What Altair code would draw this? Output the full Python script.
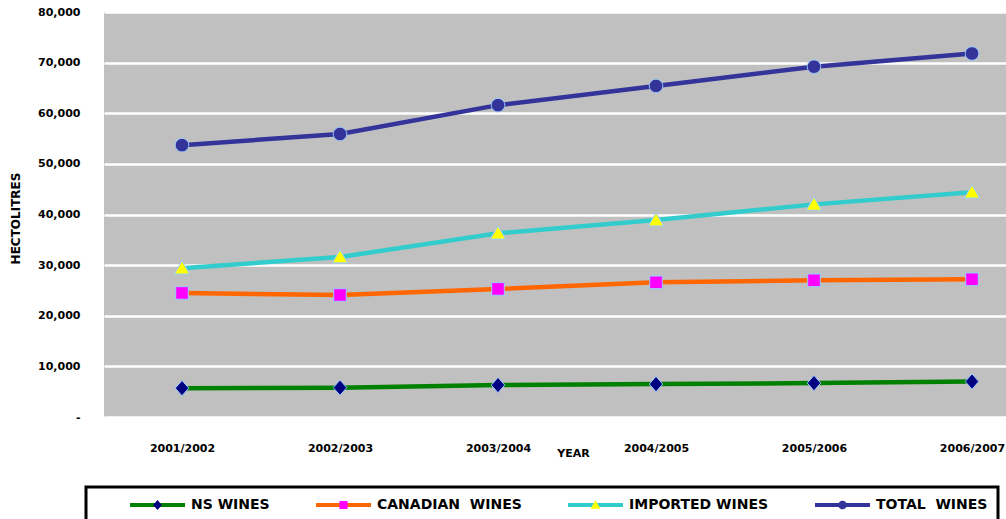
import json
import altair as alt
import pandas as pd

# ---- data ----
YEARS = ["2001/2002", "2002/2003", "2003/2004", "2004/2005", "2005/2006", "2006/2007"]
SERIES = ["NS WINES", "CANADIAN\u00a0 WINES", "IMPORTED WINES", "TOTAL\u00a0 WINES"]
NS_WINES = [5700, 5800, 6300, 6500, 6700, 7000]
CANADIAN_WINES = [24500, 24100, 25300, 26600, 27000, 27200]
IMPORTED_WINES = [29400, 31600, 36300, 38900, 42000, 44400]
TOTAL_WINES = [53700, 55900, 61600, 65400, 69200, 71800]
Y_TICKS = [0, 10000, 20000, 30000, 40000, 50000, 60000, 70000, 80000]

LINE_COLORS = ["#008000", "#FF6600", "#33CCCC", "#333399"]
MARKER_FILLS = ["#000080", "#FF00FF", "#FFFF00", "#333399"]
MARKER_SHAPES = [
    "M0,-0.17L0.15,0L0,0.17L-0.15,0Z",
    "M-0.14,-0.14H0.14V0.14H-0.14Z",
    "M0,-0.16L0.17,0.13H-0.17Z",
    "M-0.15,0A0.15,0.15,0,1,0,0.15,0A0.15,0.15,0,1,0,-0.15,0Z",
]

values_by_series = [NS_WINES, CANADIAN_WINES, IMPORTED_WINES, TOTAL_WINES]
rows = []
for name, vals in zip(SERIES, values_by_series):
    for i, v in enumerate(vals):
        rows.append({"idx": i, "year": YEARS[i], "series": name, "series_m": name, "value": v})
df = pd.DataFrame(rows)

FONT = "DejaVu Sans"

legend_common = dict(
    orient="none", legendX=-18, legendY=475, direction="horizontal", columns=4,
    title="ABC", titleOrient="left", titleFont=FONT, titleFontSize=14, titleFontWeight="bold",
    titlePadding=0, titleOpacity=0,
    labelFont=FONT, labelFontWeight="bold", labelFontSize=14, labelOffset=4, labelLimit=400,
    columnPadding=44, padding=10, clipHeight=16,
)

line_legend = alt.Legend(
    **legend_common, symbolType="stroke", symbolSize=3025, symbolStrokeWidth=4,
    labelColor="black", strokeColor="black",
)
marker_legend = alt.Legend(
    **legend_common, symbolSize=3364, symbolStrokeWidth=1, symbolStrokeColor="#99CCFF",
    symbolOpacity=1, labelOpacity=0,
)

x_label_expr = json.dumps(YEARS) + "[datum.value]"

base = alt.Chart(df).encode(
    x=alt.X(
        "idx:Q",
        scale=alt.Scale(domain=[-0.4937, 5.2152], nice=False, zero=False),
        axis=alt.Axis(
            values=list(range(len(YEARS))), labelExpr=x_label_expr, grid=False,
            domain=False, ticks=False, labelFlush=False, labelOverlap=False,
            labelPadding=25, labelFont=FONT, labelFontWeight="bold", labelFontSize=11,
            labelColor="black",
            title="YEAR", titleX=469, titleY=36, titleAlign="center", titleBaseline="middle",
            titleFont=FONT, titleFontWeight="bold", titleFontSize=11, titleColor="black",
        ),
    ),
    y=alt.Y(
        "value:Q",
        scale=alt.Scale(domain=[0, 80000], nice=False),
        axis=alt.Axis(
            values=Y_TICKS, labelExpr="datum.value == 0 ? '-' : format(datum.value, ',')",
            grid=True, gridColor="white", gridWidth=2.5, domain=False, ticks=False,
            labelPadding=24, labelFont=FONT, labelFontWeight="bold", labelFontSize=11,
            labelColor="black", labelOverlap=False,
            title="HECTOLITRES", titleX=-89, titleY=206, titleAlign="center",
            titleBaseline="middle", titleFont=FONT, titleFontWeight="bold",
            titleFontSize=12, titleColor="black",
        ),
    ),
)

lines = base.mark_line(strokeWidth=4.5).encode(
    stroke=alt.Stroke(
        "series:N",
        sort=SERIES,
        scale=alt.Scale(range=LINE_COLORS),
        legend=line_legend,
    )
)

points = base.mark_point(filled=True, size=8100, opacity=1, stroke="#99CCFF", strokeWidth=1).encode(
    color=alt.Color("series_m:N", scale=alt.Scale(domain=SERIES, range=MARKER_FILLS), legend=marker_legend),
    shape=alt.Shape("series_m:N", scale=alt.Scale(domain=SERIES, range=MARKER_SHAPES), legend=marker_legend),
)

chart = (
    alt.layer(lines, points)
    .properties(
        width=902, height=405,
        autosize=alt.AutoSizeParams(type="none"),
        padding={"left": 104, "top": 12, "right": 0, "bottom": 102},
        background="white",
    )
    .configure_view(fill="#C0C0C0", strokeWidth=0)
    .configure_legend(strokeWidth=3)
)

chart.save("out.html", embed_options={"renderer": "svg", "actions": False})
